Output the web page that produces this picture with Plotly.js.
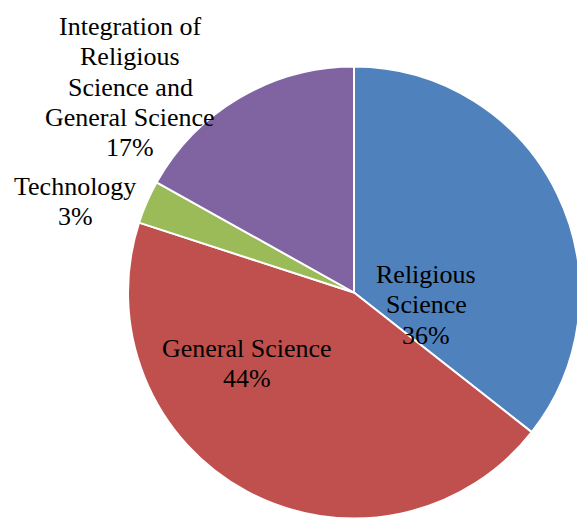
<!DOCTYPE html>
<html>
<head>
<meta charset="utf-8">
<script src="https://cdn.plot.ly/plotly-3.0.1.min.js"></script>
<style>
html, body { margin: 0; padding: 0; overflow: hidden; background: #fff; }
#chart { width: 600px; height: 519px; }
</style>
</head>
<body>
<div id="chart"></div>
<script>
// Data (percent shares)
const categories = ['Religious Science', 'General Science', 'Technology', 'Integration of Religious Science and General Science'];
const values = [35.6, 44.4, 3.1, 16.9];
const colors = ['#4F81BD', '#C0504D', '#9BBB59', '#8064A2'];
// How each category label is broken into lines on the chart
const labelLines = [
  ['Religious', 'Science'],
  ['General Science'],
  ['Technology'],
  ['Integration of', 'Religious', 'Science and', 'General Science']
];

const W = 600, H = 519;
const FS = 26;
const PITCH = 30.3;
// label block anchors (center x, baseline of first line) in pixels
const labelAnchors = [
  [426, 283],
  [247, 357],
  [75, 195],
  [130, 35]
];

const total = values.reduce((a, b) => a + b, 0);
const annotations = [];
categories.forEach((c, i) => {
  const lines = labelLines[i].concat([Math.round(values[i] / total * 100) + '%']);
  lines.forEach((t, j) => {
    const base = labelAnchors[i][1] + j * PITCH;
    const cy = base - 0.32 * FS;
    annotations.push({
      text: t,
      xref: 'paper', yref: 'paper',
      x: labelAnchors[i][0] / W,
      y: 1 - cy / H,
      xanchor: 'center', yanchor: 'middle',
      showarrow: false,
      font: { family: 'Liberation Serif', size: FS, color: '#000' }
    });
  });
});

const trace = {
  type: 'pie',
  labels: categories,
  values: values,
  sort: false,
  direction: 'clockwise',
  rotation: 0,
  textinfo: 'none',
  hoverinfo: 'label+percent',
  marker: { colors: colors, line: { color: '#ffffff', width: 2 } },
  domain: { x: [128 / W, 580 / W], y: [0, 453 / H] },
  showlegend: false
};

const layout = {
  width: W,
  height: H,
  margin: { l: 0, r: 0, t: 0, b: 0, pad: 0 },
  paper_bgcolor: '#ffffff',
  plot_bgcolor: '#ffffff',
  showlegend: false,
  font: { family: 'Liberation Serif' },
  annotations: annotations
};

Plotly.newPlot('chart', [trace], layout, { displayModeBar: false, staticPlot: true });
</script>
</body>
</html>
